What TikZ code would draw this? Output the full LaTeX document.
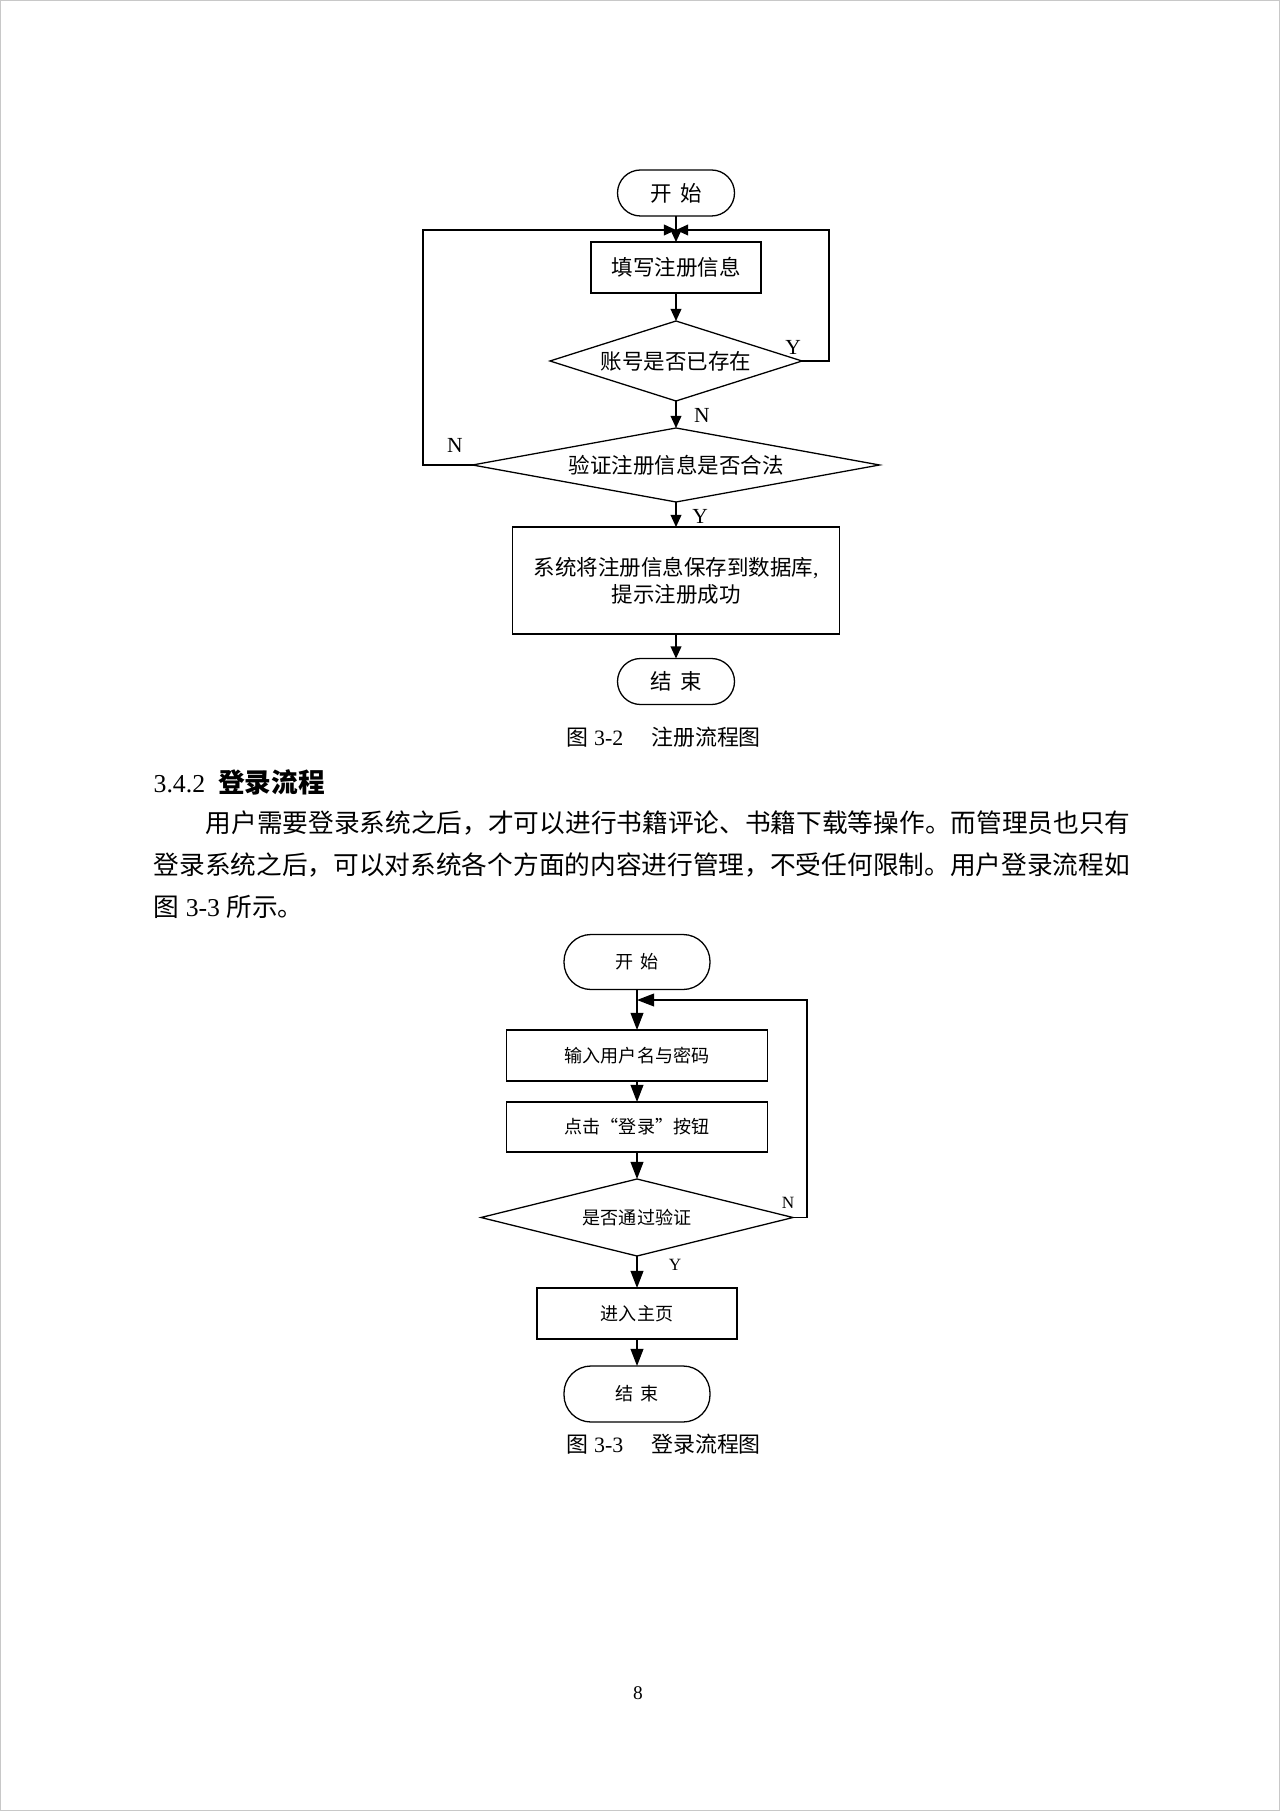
\documentclass[tikz,border=0pt]{standalone}
\usepackage{fontspec}
\setmainfont{Liberation Serif}
\newfontfamily\cjk{Noto Sans CJK SC}
\usetikzlibrary{shapes.geometric,arrows.meta}
\newcommand{\pxu}{0.4651pt}
\definecolor{bordergray}{RGB}{200,200,200}
\begin{document}
\begin{tikzpicture}[x=0.4651pt,y=-0.4651pt,
  line width=0.6pt,
  termA/.style={draw, rectangle, rounded corners=23*\pxu, minimum width=117*\pxu, minimum height=46*\pxu, inner sep=0pt, outer sep=0pt, font=\cjk\fontsize{10pt}{12pt}\selectfont},
  termB/.style={draw, rectangle, rounded corners=27*\pxu, minimum width=146*\pxu, minimum height=55*\pxu, inner sep=0pt, outer sep=0pt, font=\cjk\fontsize{8.4pt}{10pt}\selectfont},
  boxA/.style={draw, rectangle, inner sep=0pt, outer sep=0pt, align=center, font=\cjk\fontsize{10pt}{12.5pt}\selectfont},
  boxB/.style={draw, rectangle, inner sep=0pt, outer sep=0pt, align=center, font=\cjk\fontsize{8.4pt}{10pt}\selectfont},
  decA/.style={draw, diamond, inner sep=0pt, outer sep=0pt, font=\cjk\fontsize{10pt}{12pt}\selectfont},
  decB/.style={draw, diamond, inner sep=0pt, outer sep=0pt, font=\cjk\fontsize{8.4pt}{10pt}\selectfont},
  arrA/.style={-{Triangle[length=5.6pt,width=5pt]}},
  arrB/.style={-{Triangle[length=8pt,width=6pt]}},
  lblA/.style={inner sep=0pt, font=\fontsize{10pt}{12pt}\selectfont},
  lblB/.style={inner sep=0pt, font=\fontsize{8pt}{10pt}\selectfont},
  para/.style={inner sep=0pt, anchor=west, font=\fontsize{11.95pt}{14pt}\selectfont},
  capt/.style={inner sep=0pt, anchor=west, font=\fontsize{10.2pt}{12pt}\selectfont}
]
\path[use as bounding box] (0,0) rectangle (1280,1811);
\draw[bordergray, line width=1.4*\pxu] (0.7,0.7) rectangle (1279.3,1810.3);

% ---------- Figure 3-2 ----------
\node[termA] (s1) at (676,193) {开\hspace{0.4em}始};
\node[boxA, minimum width=170*\pxu, minimum height=51*\pxu] (b1) at (676,267.5) {填写注册信息};
\node[decA, aspect=3.15, minimum width=252*\pxu, minimum height=80*\pxu] (d1) at (676,361) {账号是否已存在};
\node[decA, aspect=5.5, minimum width=407*\pxu, minimum height=74*\pxu] (d2) at (676,465) {验证注册信息是否合法};
\node[boxA, minimum width=327*\pxu, minimum height=107*\pxu] (b2) at (676,580.5) {系统将注册信息保存到数据库{\rmfamily,}\\提示注册成功};
\node[termA] (e1) at (676,681.5) {结\hspace{0.4em}束};

\coordinate (j1) at (676,230);
\coordinate (rY) at (829,230);
\coordinate (lN) at (423,230);

\draw[arrA] (s1) -- (b1);
\draw[arrA] (b1) -- (d1);
\draw[arrA] (d1) -- (d2);
\draw[arrA] (d2) -- (b2);
\draw[arrA] (b2) -- (e1);
\draw[arrA] (d1.east) -| (rY) -- (j1);
\draw[arrA] (d2.west) -| (lN) -- (j1);

\node[lblA] (y1) at (793,347) {Y};
\node[lblA] (n1) at (702,415) {N};
\node[lblA] (n2) at (455,445) {N};
\node[lblA] (y2) at (700,516) {Y};

\node[capt] (cap1) at (566,737) {{\cjk 图} 3-2\hspace{13pt}{\cjk 注册流程图}};

% ---------- Text ----------
\node[inner sep=0pt, anchor=west, font=\fontsize{12pt}{14pt}\selectfont] (h1) at (153,782) {3.4.2\hspace{6pt}{\cjk\bfseries\fontsize{12.4pt}{14pt}\selectfont 登录流程}};
\node[para] (p1) at (205,823) {\cjk 用户需要登录系统之后，才可以进行书籍评论、书籍下载等操作。而管理员也只有};
\node[para] (p2) at (153,865) {\cjk 登录系统之后，可以对系统各个方面的内容进行管理，不受任何限制。用户登录流程如};
\node[para] (p3) at (153,907) {{\cjk 图} 3-3 {\cjk 所示。}};

% ---------- Figure 3-3 ----------
\node[termB] (s2) at (637,962) {开\hspace{0.4em}始};
\node[boxB, minimum width=261*\pxu, minimum height=51*\pxu] (c1) at (637,1055.5) {输入用户名与密码};
\node[boxB, minimum width=261*\pxu, minimum height=50*\pxu] (c2) at (637,1127) {点击“登录”按钮};
\node[decB, aspect=4.05, minimum width=312*\pxu, minimum height=77*\pxu] (d3) at (637,1217.5) {是否通过验证};
\node[boxB, minimum width=200*\pxu, minimum height=51*\pxu] (c3) at (637,1313.5) {进入主页};
\node[termB, minimum height=56*\pxu] (e2) at (637,1394) {结\hspace{0.4em}束};

\coordinate (j2) at (637,1000);
\coordinate (rN) at (807,1000);

\draw[arrB] (s2) -- (c1);
\draw[arrB] (c1) -- (c2);
\draw[arrB] (c2) -- (d3);
\draw[arrB] (d3) -- (c3);
\draw[arrB] (c3) -- (e2);
\draw[arrB] (d3.east) -| (rN) -- (j2);

\node[lblB] (n3) at (788,1203) {N};
\node[lblB] (y3) at (675,1265) {Y};

\node[capt] (cap2) at (566,1444) {{\cjk 图} 3-3\hspace{13pt}{\cjk 登录流程图}};

\node[inner sep=0pt, font=\fontsize{9pt}{11pt}\selectfont] (pg) at (638,1693) {8};
\end{tikzpicture}
\end{document}
